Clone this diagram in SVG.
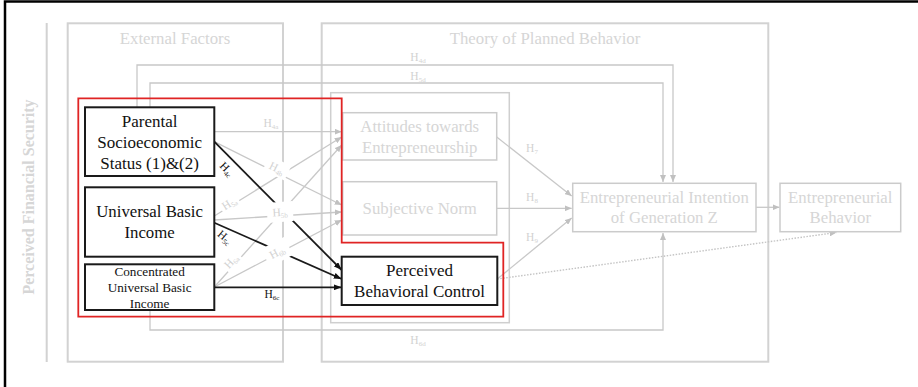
<svg xmlns="http://www.w3.org/2000/svg" width="918" height="387" viewBox="0 0 918 387">
<style>
  .frame{fill:none;stroke:#d2d2d2;stroke-width:2}
  .gbox{fill:#fff;stroke:#cbcbcb;stroke-width:1.5}
  .bbox{fill:#fff;stroke:#1a1a1a;stroke-width:2}
  .gl{fill:none;stroke:#c8c8c8;stroke-width:1.3}
  .bl{fill:none;stroke:#1a1a1a;stroke-width:1.8}
  .dot{fill:none;stroke:#c4c4c4;stroke-width:1.4;stroke-dasharray:1.5 1.5}
  .gt{font-family:"Liberation Serif",serif;fill:#d6d6d6;font-size:16.8px;text-anchor:middle}
  .bt{font-family:"Liberation Serif",serif;fill:#111;text-anchor:middle}
  .hg{font-family:"Liberation Serif",serif;font-size:11.5px;fill:#d2d2d2;text-anchor:middle}
  .hb{font-family:"Liberation Serif",serif;font-size:11.5px;fill:#111;text-anchor:middle}
  .sub{font-size:7px}
  .bg{fill:#fff}
</style>
<defs>
  <marker id="ag" markerWidth="7" markerHeight="6" refX="7" refY="3" orient="auto" markerUnits="userSpaceOnUse">
    <path d="M0,0 L7,3 L0,6 Z" fill="#c0c0c0"/>
  </marker>
  <marker id="ab" markerWidth="8" markerHeight="6" refX="8" refY="3" orient="auto" markerUnits="userSpaceOnUse">
    <path d="M0,0 L8,3 L0,6 Z" fill="#111"/>
  </marker>
</defs>

<!-- page edge -->
<path d="M5,387 V1.5 H918" fill="none" stroke="#000" stroke-width="2.5"/>

<!-- grouping frames -->
<g id="financial-security">
  <line x1="46.7" y1="23" x2="46.7" y2="362" class="frame"/>
  <text transform="translate(33.5,197) rotate(-90)" font-family="Liberation Serif, serif" font-weight="bold" font-size="16" fill="#d6d6d6" text-anchor="middle">Perceived Financial Security</text>
</g>
<g id="external-factors">
  <rect x="67.7" y="23.3" width="215.3" height="338.4" class="frame"/>
  <text x="175" y="43.5" class="gt">External Factors</text>
</g>
<g id="tpb">
  <rect x="321.7" y="23.3" width="446.6" height="338.4" class="frame"/>
  <rect x="330.7" y="92.7" width="178.6" height="230" fill="none" stroke="#cfcfcf" stroke-width="1.5"/>
  <text x="545" y="43.5" class="gt">Theory of Planned Behavior</text>
</g>

<!-- connectors -->
<g id="connectors">
  <path d="M137,107 V65 H673 V182" class="gl" marker-end="url(#ag)"/>
  <path d="M150,107 V83 H663 V182" class="gl" marker-end="url(#ag)"/>
  <path d="M150,310 V330 H663 V233" class="gl" marker-end="url(#ag)"/>

  <line x1="214.3" y1="131.7" x2="341.7" y2="131.7" class="gl" marker-end="url(#ag)"/>
  <line x1="214.3" y1="141.7" x2="341.7" y2="205" class="gl" marker-end="url(#ag)"/>
  <line x1="214.3" y1="216" x2="341.7" y2="137" class="gl" marker-end="url(#ag)"/>
  <line x1="214.3" y1="220" x2="341.7" y2="212" class="gl" marker-end="url(#ag)"/>
  <line x1="214.3" y1="287" x2="341.7" y2="145" class="gl" marker-end="url(#ag)"/>
  <line x1="214.3" y1="287" x2="341.7" y2="220" class="gl" marker-end="url(#ag)"/>

  <line x1="214.3" y1="141.7" x2="341.7" y2="270" class="bl" marker-end="url(#ab)"/>
  <line x1="214.3" y1="222.7" x2="341.7" y2="279" class="bl" marker-end="url(#ab)"/>
  <line x1="214.3" y1="287.3" x2="341.7" y2="287.3" class="bl" marker-end="url(#ab)"/>

  <line x1="496.7" y1="137" x2="571.7" y2="196" class="gl" marker-end="url(#ag)"/>
  <line x1="496.7" y1="208.3" x2="571.7" y2="208.3" class="gl" marker-end="url(#ag)"/>
  <line x1="497.3" y1="279" x2="571.7" y2="218" class="gl" marker-end="url(#ag)"/>
  <line x1="756" y1="207.3" x2="779.5" y2="207.3" class="gl" marker-end="url(#ag)"/>
  <line x1="497.3" y1="279" x2="836.5" y2="232.5" class="dot" marker-end="url(#ag)"/>
</g>

<!-- nodes -->
<g id="node-pss">
  <rect x="85" y="107.3" width="129.3" height="68.7" class="bbox"/>
  <text class="bt" font-size="17" x="149.6" y="127">Parental</text>
  <text class="bt" font-size="17" x="149.6" y="148">Socioeconomic</text>
  <text class="bt" font-size="17" x="149.6" y="168.5">Status (1)&amp;(2)</text>
</g>
<g id="node-ubi">
  <rect x="85" y="187.3" width="129.3" height="69.4" class="bbox"/>
  <text class="bt" font-size="16.8" x="149.6" y="217">Universal Basic</text>
  <text class="bt" font-size="16.8" x="149.6" y="238">Income</text>
</g>
<g id="node-cubi">
  <rect x="85" y="264.3" width="129.3" height="45.7" class="bbox"/>
  <text class="bt" font-size="13.2" x="149.6" y="276">Concentrated</text>
  <text class="bt" font-size="13.2" x="149.6" y="292">Universal Basic</text>
  <text class="bt" font-size="13.2" x="149.6" y="308">Income</text>
</g>
<g id="node-attitudes">
  <rect x="342.7" y="112.7" width="154" height="47.3" class="gbox"/>
  <text class="gt" x="419.7" y="132">Attitudes towards</text>
  <text class="gt" x="419.7" y="152.5">Entrepreneurship</text>
</g>
<g id="node-norm">
  <rect x="342.7" y="181.7" width="154" height="53.3" class="gbox"/>
  <text class="gt" x="419.7" y="214">Subjective Norm</text>
</g>
<g id="node-pbc">
  <rect x="341.7" y="256.7" width="155.6" height="48.3" class="bbox"/>
  <text class="bt" font-size="17" x="419.5" y="276">Perceived</text>
  <text class="bt" font-size="17" x="419.5" y="297">Behavioral Control</text>
</g>
<g id="node-intention">
  <rect x="572.7" y="183.3" width="183.3" height="48.4" class="gbox"/>
  <text class="gt" x="664.3" y="202.5">Entrepreneurial Intention</text>
  <text class="gt" x="664.3" y="222.5">of Generation Z</text>
</g>
<g id="node-behavior">
  <rect x="780" y="183.3" width="120.7" height="48.4" class="gbox"/>
  <text class="gt" x="840.3" y="202.5">Entrepreneurial</text>
  <text class="gt" x="840.3" y="223">Behavior</text>
</g>

<!-- path labels: white plates open a gap in the lines behind each label -->
<g id="labels">
  <g transform="translate(418,61)"><text class="hg">H<tspan class="sub" dy="2">4d</tspan></text></g>
  <g transform="translate(418,80)"><text class="hg">H<tspan class="sub" dy="2">5d</tspan></text></g>
  <g transform="translate(418,344)"><text class="hg">H<tspan class="sub" dy="2">6d</tspan></text></g>

  <g transform="translate(271,127)"><text class="hg">H<tspan class="sub" dy="2">4a</tspan></text></g>
  <g transform="translate(277,168) rotate(26)"><rect class="bg" x="-12" y="-8" width="24" height="16"/><text class="hg" y="4">H<tspan class="sub" dy="2">4b</tspan></text></g>
  <g transform="translate(229,203) rotate(-33)"><rect class="bg" x="-10" y="-7" width="20" height="14"/><text class="hg" y="4">H<tspan class="sub" dy="2">5a</tspan></text></g>
  <g transform="translate(280,212) rotate(-4)"><rect class="bg" x="-13" y="-10" width="26" height="20"/><text class="hg" y="4">H<tspan class="sub" dy="2">5b</tspan></text></g>
  <g transform="translate(231,261) rotate(-48)"><rect class="bg" x="-10" y="-7" width="20" height="14"/><text class="hg" y="4">H<tspan class="sub" dy="2">6a</tspan></text></g>
  <g transform="translate(277,252) rotate(-28)"><rect class="bg" x="-13" y="-10" width="26" height="20"/><text class="hg" y="4">H<tspan class="sub" dy="2">6b</tspan></text></g>

  <g transform="translate(227,169) rotate(45)"><text class="hb" y="4">H<tspan class="sub" dy="2">4c</tspan></text></g>
  <g transform="translate(225,237) rotate(40)"><text class="hb" y="4">H<tspan class="sub" dy="2">5c</tspan></text></g>
  <g transform="translate(272,298)"><text class="hb">H<tspan class="sub" dy="2">6c</tspan></text></g>

  <g transform="translate(532,152)"><text class="hg">H<tspan class="sub" dy="2">7</tspan></text></g>
  <g transform="translate(532,201)"><text class="hg">H<tspan class="sub" dy="2">8</tspan></text></g>
  <g transform="translate(532,241)"><text class="hg">H<tspan class="sub" dy="2">9</tspan></text></g>
</g>

<!-- highlighted area -->
<path d="M78.3,98.3 H341.7 V242.7 H503.3 V316.7 H78.3 Z" fill="none" stroke="#e02424" stroke-width="1.8"/>
</svg>
